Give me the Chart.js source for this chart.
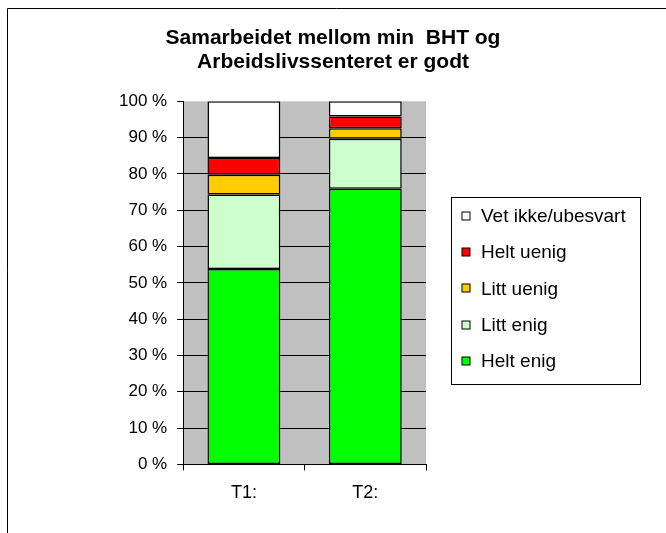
<!DOCTYPE html>
<html>
<head>
<meta charset="utf-8">
<script src="https://cdn.jsdelivr.net/npm/chart.js@4"></script>
<style>
  body { margin: 0; background: #fff; }
</style>
</head>
<body>
<canvas id="chart" width="666" height="533"></canvas>
<script>
// categories and series (percent of answers)
const categories = ['T1:', 'T2:'];
const heltEnig = [53.8, 75.9];
const littEnig = [20.5, 13.8];
const littUenig = [5.5, 2.9];
const heltUenig = [4.6, 3.2];
const vetIkke = [15.6, 4.2];

const titleLines = ['Samarbeidet mellom min  BHT og', 'Arbeidslivssenteret er godt'];

const fontFamily = "'Liberation Sans', Arial, sans-serif";
Chart.defaults.font.family = fontFamily;
Chart.defaults.color = '#000';

// grey plot area, frame round the chart, and an Excel style legend box on the right
const excelLook = {
    id: 'excelLook',
    beforeDraw(chart) {
        const { ctx, chartArea: a } = chart;
        ctx.save();
        ctx.fillStyle = '#c0c0c0';
        ctx.fillRect(a.left, a.top, a.right - a.left, a.bottom - a.top);
        // outer frame (only top and left are inside the picture)
        ctx.strokeStyle = '#000';
        ctx.lineWidth = 1;
        ctx.beginPath();
        ctx.moveTo(7.5, chart.height);
        ctx.lineTo(7.5, 8.5);
        ctx.lineTo(chart.width, 8.5);
        ctx.stroke();
        ctx.restore();
    },
    afterDraw(chart) {
        const { ctx, chartArea: a } = chart;
        const sets = chart.data.datasets.slice().reverse();
        const step = 36.4;
        const mid = (a.top + a.bottom) / 2 + 5.5;
        const firstY = mid - step * (sets.length - 1) / 2;
        const boxLeft = Math.round(a.right + 25) + 0.5;
        const boxTop = Math.round(firstY - 19) + 0.5;
        const boxBottom = Math.round(firstY + step * (sets.length - 1) + 23) + 0.5;

        ctx.save();
        ctx.fillStyle = '#fff';
        ctx.strokeStyle = '#000';
        ctx.lineWidth = 1;
        ctx.fillRect(boxLeft, boxTop, 189, boxBottom - boxTop);
        ctx.strokeRect(boxLeft, boxTop, 189, boxBottom - boxTop);

        ctx.font = '19px ' + fontFamily;
        ctx.textBaseline = 'middle';
        sets.forEach((ds, i) => {
            const y = firstY + i * step;
            ctx.fillStyle = ds.backgroundColor;
            ctx.fillRect(boxLeft + 10.5, Math.round(y - 4), 8, 8);
            ctx.strokeRect(boxLeft + 10.5, Math.round(y - 4), 8, 8);
            ctx.fillStyle = '#000';
            ctx.fillText(ds.label, boxLeft + 29.5, y + 1);
        });
        ctx.restore();
    }
};

const barStyle = {
    borderColor: '#000',
    borderWidth: 1.5,
    borderSkipped: false,
    barPercentage: 0.6,
    categoryPercentage: 1
};

new Chart(document.querySelector('#chart').getContext('2d'), {
    type: 'bar',
    data: {
        labels: categories,
        datasets: [
            { label: 'Helt enig', data: heltEnig, backgroundColor: '#00ff00', ...barStyle },
            { label: 'Litt enig', data: littEnig, backgroundColor: '#ccffcc', ...barStyle },
            { label: 'Litt uenig', data: littUenig, backgroundColor: '#ffcc00', ...barStyle },
            { label: 'Helt uenig', data: heltUenig, backgroundColor: '#ff0000', ...barStyle },
            { label: 'Vet ikke/ubesvart', data: vetIkke, backgroundColor: '#ffffff', ...barStyle }
        ]
    },
    options: {
        responsive: false,
        animation: false,
        devicePixelRatio: 1,
        layout: { padding: { left: 109, right: 109, top: 0, bottom: 17 } },
        plugins: {
            title: {
                display: true,
                text: titleLines,
                font: { size: 21, weight: 'bold', lineHeight: 1.15 },
                padding: { top: 26, bottom: 27 }
            },
            legend: { display: false },
            tooltip: { enabled: false }
        },
        scales: {
            x: {
                stacked: true,
                grid: { display: true, drawOnChartArea: false, drawTicks: true, tickLength: 6, color: '#000', offset: true },
                border: { color: '#000', width: 1 },
                ticks: { padding: 12, font: { size: 18 } }
            },
            y: {
                stacked: true,
                min: 0,
                max: 100,
                grid: {
                    color: ctx => (ctx.tick && ctx.tick.value === 100) ? 'rgba(0,0,0,0)' : '#000',
                    tickColor: '#000',
                    tickLength: 6
                },
                border: { color: '#000', width: 1 },
                ticks: {
                    stepSize: 10,
                    padding: 10,
                    font: { size: 17 },
                    callback: v => v + ' %'
                }
            },
            // empty axis that holds the room for the legend box
            gap: {
                type: 'linear',
                position: 'right',
                display: true,
                grid: { display: false },
                border: { display: false },
                ticks: { display: false },
                afterFit: s => { s.width = 131; }
            }
        }
    },
    plugins: [excelLook]
});
</script>
</body>
</html>
